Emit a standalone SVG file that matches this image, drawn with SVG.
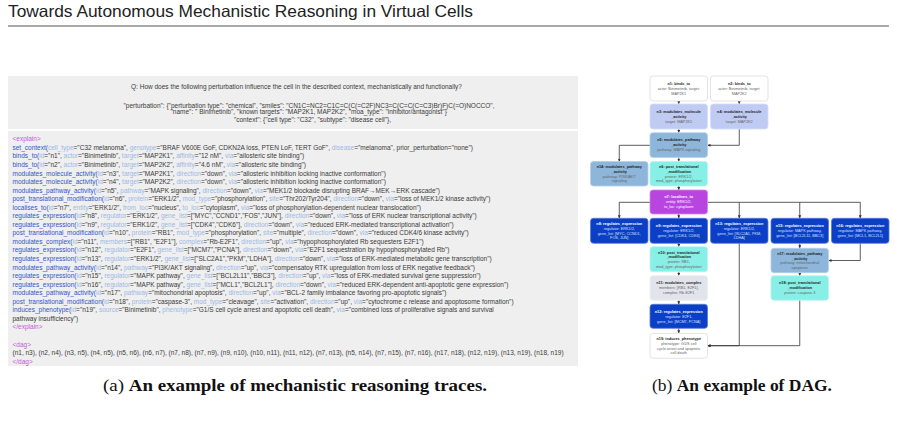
<svg xmlns="http://www.w3.org/2000/svg" width="897" height="426" viewBox="0 0 897 426">
<style>
.ttl{font-family:"Liberation Sans",Arial,sans-serif;font-size:16.5px;fill:#222}
.cap{font-family:"Liberation Serif","Times New Roman",serif;font-size:16px;fill:#111}
.b{font-weight:bold}
.q{font-family:"Liberation Sans",Arial,sans-serif;font-size:6.5px;fill:#3a3a3a;text-anchor:middle}
.e{font-family:"Liberation Sans",Arial,sans-serif;font-size:6.5px;fill:#3a3a3a}
.f{fill:#3355c8}
.k{fill:#9bb8e6}
.t{fill:#c45ad8}
.nt{font-family:"Liberation Sans",Arial,sans-serif;font-size:3.8px;text-anchor:middle}
.dk{fill:#222}
.lt{fill:#666}
.wh{fill:#fff}
.lb{fill:#d6e0ff}
.edge{fill:none;stroke:#333;stroke-width:0.8}
</style>
<defs>
<marker id="ah" viewBox="0 0 6 6" refX="6" refY="3" markerWidth="3" markerHeight="3" orient="auto" markerUnits="userSpaceOnUse"><path d="M0,0L6,3L0,6z" fill="#333"/></marker>
</defs>
<rect width="897" height="426" fill="#fff"/>
<text class="ttl" x="8" y="17" textLength="465" lengthAdjust="spacingAndGlyphs">Towards Autonomous Mechanistic Reasoning in Virtual Cells</text>
<line x1="8" y1="26" x2="889" y2="26" stroke="#555" stroke-width="1"/>

<g id="panel-a">
<rect x="8" y="76" width="570" height="53" fill="#efefef"/>
<rect x="8" y="131" width="570" height="235" fill="#efefef"/>
<text class="q" x="296.5" y="89.3">Q: How does the following perturbation influence the cell in the described context, mechanistically and functionally?</text>
<text class="q" x="309" y="107.5">"perturbation": {"perturbation type": "chemical", "smiles": "CN1C=NC2=C1C=C(C(=C2F)NC3=C(C=C(C=C3)Br)F)C(=O)NOCCO",</text>
<text class="q" x="308.7" y="114.3">"name": " Binimetinib", "known targets": "MAP2K1, MAP2K2", "moa_type": "inhibitor/antagonist"}</text>
<text class="q" x="312.5" y="122">"context": {"cell type": "C32", "subtype": "disease cell"},</text>

<text class="e t" x="12.5" y="141.3">&lt;explain&gt;</text>
<text class="e" x="12.5" y="149.85"><tspan class="f">set_context(</tspan><tspan class="k">cell_type</tspan>="C32 melanoma", <tspan class="k">genotype</tspan>="BRAF V600E GoF, CDKN2A loss, PTEN LoF, TERT GoF", <tspan class="k">disease</tspan>="melanoma", prior_perturbation="none")</text>
<text class="e" x="12.5" y="158.4"><tspan class="f">binds_to(</tspan><tspan class="k">id</tspan>="n1", <tspan class="k">actor</tspan>="Binimetinib", <tspan class="k">target</tspan>="MAP2K1", <tspan class="k">affinity</tspan>="12 nM", <tspan class="k">via</tspan>="allosteric site binding")</text>
<text class="e" x="12.5" y="166.95"><tspan class="f">binds_to(</tspan><tspan class="k">id</tspan>="n2", <tspan class="k">actor</tspan>="Binimetinib", <tspan class="k">target</tspan>="MAP2K2", <tspan class="k">affinity</tspan>="4.6 nM", <tspan class="k">via</tspan>="allosteric site binding")</text>
<text class="e" x="12.5" y="175.5"><tspan class="f">modulates_molecule_activity(</tspan><tspan class="k">id</tspan>="n3", <tspan class="k">target</tspan>="MAP2K1", <tspan class="k">direction</tspan>="down", <tspan class="k">via</tspan>="allosteric inhibition locking inactive conformation")</text>
<text class="e" x="12.5" y="184.05"><tspan class="f">modulates_molecule_activity(</tspan><tspan class="k">id</tspan>="n4", <tspan class="k">target</tspan>="MAP2K2", <tspan class="k">direction</tspan>="down", <tspan class="k">via</tspan>="allosteric inhibition locking inactive conformation")</text>
<text class="e" x="12.5" y="192.6"><tspan class="f">modulates_pathway_activity(</tspan><tspan class="k">id</tspan>="n5", <tspan class="k">pathway</tspan>="MAPK signaling", <tspan class="k">direction</tspan>="down", <tspan class="k">via</tspan>="MEK1/2 blockade disrupting BRAF→MEK→ERK cascade")</text>
<text class="e" x="12.5" y="201.15"><tspan class="f">post_translational_modification(</tspan><tspan class="k">id</tspan>="n6", <tspan class="k">protein</tspan>="ERK1/2", <tspan class="k">mod_type</tspan>="phosphorylation", <tspan class="k">site</tspan>="Thr202/Tyr204", <tspan class="k">direction</tspan>="down", <tspan class="k">via</tspan>="loss of MEK1/2 kinase activity")</text>
<text class="e" x="12.5" y="209.7"><tspan class="f">localises_to(</tspan><tspan class="k">id</tspan>="n7", <tspan class="k">entity</tspan>="ERK1/2", <tspan class="k">from_loc</tspan>="nucleus", <tspan class="k">to_loc</tspan>="cytoplasm", <tspan class="k">via</tspan>="loss of phosphorylation-dependent nuclear translocation")</text>
<text class="e" x="12.5" y="218.25"><tspan class="f">regulates_expression(</tspan><tspan class="k">id</tspan>="n8", <tspan class="k">regulator</tspan>="ERK1/2", <tspan class="k">gene_list</tspan>=["MYC","CCND1","FOS","JUN"], <tspan class="k">direction</tspan>="down", <tspan class="k">via</tspan>="loss of ERK nuclear transcriptional activity")</text>
<text class="e" x="12.5" y="226.8"><tspan class="f">regulates_expression(</tspan><tspan class="k">id</tspan>="n9", <tspan class="k">regulator</tspan>="ERK1/2", <tspan class="k">gene_list</tspan>=["CDK4","CDK6"], <tspan class="k">direction</tspan>="down", <tspan class="k">via</tspan>="reduced ERK-mediated transcriptional activation")</text>
<text class="e" x="12.5" y="235.35"><tspan class="f">post_translational_modification(</tspan><tspan class="k">id</tspan>="n10", <tspan class="k">protein</tspan>="RB1", <tspan class="k">mod_type</tspan>="phosphorylation", <tspan class="k">site</tspan>="multiple", <tspan class="k">direction</tspan>="down", <tspan class="k">via</tspan>="reduced CDK4/6 kinase activity")</text>
<text class="e" x="12.5" y="243.9"><tspan class="f">modulates_complex(</tspan><tspan class="k">id</tspan>="n11", <tspan class="k">members</tspan>=["RB1", "E2F1"], <tspan class="k">complex</tspan>="Rb-E2F1", <tspan class="k">direction</tspan>="up", <tspan class="k">via</tspan>="hypophosphorylated Rb sequesters E2F1")</text>
<text class="e" x="12.5" y="252.45"><tspan class="f">regulates_expression(</tspan><tspan class="k">id</tspan>="n12", <tspan class="k">regulator</tspan>="E2F1", <tspan class="k">gene_list</tspan>=["MCM7","PCNA"], <tspan class="k">direction</tspan>="down", <tspan class="k">via</tspan>="E2F1 sequestration by hypophosphorylated Rb")</text>
<text class="e" x="12.5" y="261"><tspan class="f">regulates_expression(</tspan><tspan class="k">id</tspan>="n13", <tspan class="k">regulator</tspan>="ERK1/2", <tspan class="k">gene_list</tspan>=["SLC2A1","PKM","LDHA"], <tspan class="k">direction</tspan>="down", <tspan class="k">via</tspan>="loss of ERK-mediated metabolic gene transcription")</text>
<text class="e" x="12.5" y="269.55"><tspan class="f">modulates_pathway_activity(</tspan><tspan class="k">id</tspan>="n14", <tspan class="k">pathway</tspan>="PI3K/AKT signaling", <tspan class="k">direction</tspan>="up", <tspan class="k">via</tspan>="compensatoy RTK upregulation from loss of ERK negative feedback")</text>
<text class="e" x="12.5" y="278.1"><tspan class="f">regulates_expression(</tspan><tspan class="k">id</tspan>="n15", <tspan class="k">regulator</tspan>="MAPK pathway", <tspan class="k">gene_list</tspan>=["BCL2L11","BBC3"], <tspan class="k">direction</tspan>="up", <tspan class="k">via</tspan>="loss of ERK-mediated survival gene suppression")</text>
<text class="e" x="12.5" y="286.65"><tspan class="f">regulates_expression(</tspan><tspan class="k">id</tspan>="n16", <tspan class="k">regulator</tspan>="MAPK pathway", <tspan class="k">gene_list</tspan>=["MCL1","BCL2L1"], <tspan class="k">direction</tspan>="down", <tspan class="k">via</tspan>="reduced ERK-dependent anti-apoptotic gene expression")</text>
<text class="e" x="12.5" y="295.2"><tspan class="f">modulates_pathway_activity(</tspan><tspan class="k">id</tspan>="n17", <tspan class="k">pathway</tspan>="mitochondrial apoptosis", <tspan class="k">direction</tspan>="up", <tspan class="k">via</tspan>="BCL-2 family imbalance favoring pro-apoptotic signals")</text>
<text class="e" x="12.5" y="303.75"><tspan class="f">post_translational_modification(</tspan><tspan class="k">id</tspan>="n18", <tspan class="k">protein</tspan>="caspase-3", <tspan class="k">mod_type</tspan>="cleavage", <tspan class="k">site</tspan>="activation", <tspan class="k">direction</tspan>="up", <tspan class="k">via</tspan>="cytochrome c release and apoptosome formation")</text>
<text class="e" x="12.5" y="312.3"><tspan class="f">induces_phenotype(</tspan><tspan class="k">id</tspan>="n19", <tspan class="k">source</tspan>="Binimetinib", <tspan class="k">phenotype</tspan>="G1/S cell cycle arrest and apoptotic cell death", <tspan class="k">via</tspan>="combined loss of proliferative signals and survival</text>
<text class="e" x="12.5" y="320.85">pathway insufficiency")</text>
<text class="e t" x="12.5" y="329.4">&lt;/explain&gt;</text>
<text class="e t" x="12.5" y="346.5">&lt;dag&gt;</text>
<text class="e" x="12.5" y="355.05">(n1, n3), (n2, n4), (n3, n5), (n4, n5), (n5, n6), (n6, n7), (n7, n8), (n7, n9), (n9, n10), (n10, n11), (n11, n12), (n7, n13), (n5, n14), (n7, n15), (n7, n16), (n17, n18), (n12, n19), (n13, n19), (n18, n19)</text>
<text class="e t" x="12.5" y="363.6">&lt;/dag&gt;</text>
</g>

<g id="connectors">
<path class="edge" d="M678.75,101V104" marker-end="url(#ah)"/>
<path class="edge" d="M739.25,101V104" marker-end="url(#ah)"/>
<path class="edge" d="M678.75,129V132.7" marker-end="url(#ah)"/>
<path class="edge" d="M739.25,129V145.3H707.5" marker-end="url(#ah)"/>
<path class="edge" d="M650,145.3H619.25V161.5" marker-end="url(#ah)"/>
<path class="edge" d="M678.75,157.4V161.5" marker-end="url(#ah)"/>
<path class="edge" d="M678.75,186V190" marker-end="url(#ah)"/>
<path class="edge" d="M650,202.3H619.25V218.3" marker-end="url(#ah)"/>
<path class="edge" d="M678.75,214V218.3" marker-end="url(#ah)"/>
<path class="edge" d="M707.5,202.3H739.25V218.3" marker-end="url(#ah)"/>
<path class="edge" d="M739.25,202.3H799.75V218.3" marker-end="url(#ah)"/>
<path class="edge" d="M799.75,202.3H860.25V218.3" marker-end="url(#ah)"/>
<path class="edge" d="M678.75,243.3V246.7" marker-end="url(#ah)"/>
<path class="edge" d="M678.75,271.7V275.7" marker-end="url(#ah)"/>
<path class="edge" d="M678.75,300.2V304.3" marker-end="url(#ah)"/>
<path class="edge" d="M678.75,328.3V333.3" marker-end="url(#ah)"/>
<path class="edge" d="M799.75,243.3V248.3" marker-end="url(#ah)"/>
<path class="edge" d="M860.25,243.3V260.5H828.5" marker-end="url(#ah)"/>
<path class="edge" d="M799.75,272.7V275.7" marker-end="url(#ah)"/>
<path class="edge" d="M739.25,243.3V345.7H707.5" marker-end="url(#ah)"/>
<path class="edge" d="M799.75,300.2V345.7H707.5" marker-end="url(#ah)"/>
</g>

<g id="n1"><rect x="650" y="76" width="57.5" height="25" rx="3" fill="#fff" stroke="#dcdcdc" stroke-width="0.8"/>
<text class="nt"><tspan class="b dk" x="678.75" y="84.9">n1: binds_to</tspan><tspan class="lt" x="678.75" y="89.9">actor: Binimetinib, target:</tspan><tspan class="lt" x="678.75" y="94.9">MAP2K1</tspan></text></g>
<g id="n2"><rect x="710.5" y="76" width="57.5" height="25" rx="3" fill="#fff" stroke="#dcdcdc" stroke-width="0.8"/>
<text class="nt"><tspan class="b dk" x="739.25" y="84.9">n2: binds_to</tspan><tspan class="lt" x="739.25" y="89.9">actor: Binimetinib, target:</tspan><tspan class="lt" x="739.25" y="94.9">MAP2K2</tspan></text></g>
<g id="n3"><rect x="650" y="104" width="57.5" height="25" rx="3" fill="#bfcbf2" stroke="#d6def8" stroke-width="0.8"/>
<text class="nt"><tspan class="b dk" x="678.75" y="112.9">n3: modulates_molecule</tspan><tspan class="b dk" x="678.75" y="117.9">_activity</tspan><tspan class="lt" x="678.75" y="122.9">target: MAP2K1</tspan></text></g>
<g id="n4"><rect x="710.5" y="104" width="57.5" height="25" rx="3" fill="#bfcbf2" stroke="#d6def8" stroke-width="0.8"/>
<text class="nt"><tspan class="b dk" x="739.25" y="112.9">n4: modulates_molecule</tspan><tspan class="b dk" x="739.25" y="117.9">_activity</tspan><tspan class="lt" x="739.25" y="122.9">target: MAP2K2</tspan></text></g>
<g id="n5"><rect x="650" y="132.7" width="57.5" height="24.7" rx="3" fill="#8db6da" stroke="#b4cfe8" stroke-width="0.8"/>
<text class="nt"><tspan class="b dk" x="678.75" y="141.45">n5: modulates_pathway</tspan><tspan class="b dk" x="678.75" y="146.45">_activity</tspan><tspan class="lt" x="678.75" y="151.45">pathway: MAPK signaling</tspan></text></g>
<g id="n14"><rect x="590.5" y="161.5" width="57.5" height="24.5" rx="3" fill="#8db6da" stroke="#b4cfe8" stroke-width="0.8"/>
<text class="nt"><tspan class="b dk" x="619.25" y="168.1">n14: modulates_pathway</tspan><tspan class="b dk" x="619.25" y="172.8">_activity</tspan><tspan class="lt" x="619.25" y="177.5">pathway: PI3K/AKT</tspan><tspan class="lt" x="619.25" y="182.2">signaling</tspan></text></g>
<g id="n6"><rect x="650" y="161.5" width="57.5" height="24.5" rx="3" fill="#88efe6" stroke="#b6f5ef" stroke-width="0.8"/>
<text class="nt"><tspan class="b dk" x="678.75" y="168.1">n6: post_translational</tspan><tspan class="b dk" x="678.75" y="172.8">_modification</tspan><tspan class="lt" x="678.75" y="177.5">protein: ERK1/2,</tspan><tspan class="lt" x="678.75" y="182.2">mod_type: phosphorylation</tspan></text></g>
<g id="n7"><rect x="650" y="190" width="57.5" height="24" rx="3" fill="#b845e0" stroke="#cf85ec" stroke-width="0.8"/>
<text class="nt"><tspan class="b wh" x="678.75" y="198.4">n7: localises_to</tspan><tspan class="wh" x="678.75" y="203.4">entity: ERK1/2,</tspan><tspan class="wh" x="678.75" y="208.4">to_loc: cytoplasm</tspan></text></g>
<g id="n8"><rect x="590.5" y="218.3" width="57.5" height="25" rx="3" fill="#0b3fc6" stroke="#5a7ad8" stroke-width="0.8"/>
<text class="nt"><tspan class="b wh" x="619.25" y="225.15">n8: regulates_expression</tspan><tspan class="lb" x="619.25" y="229.85">regulator: ERK1/2,</tspan><tspan class="lb" x="619.25" y="234.55">gene_list: [MYC, CCND1,</tspan><tspan class="lb" x="619.25" y="239.25">FOS, JUN]</tspan></text></g>
<g id="n9"><rect x="650" y="218.3" width="57.5" height="25" rx="3" fill="#0b3fc6" stroke="#5a7ad8" stroke-width="0.8"/>
<text class="nt"><tspan class="b wh" x="678.75" y="227.2">n9: regulates_expression</tspan><tspan class="lb" x="678.75" y="232.2">regulator: ERK1/2,</tspan><tspan class="lb" x="678.75" y="237.2">gene_list: [CDK4, CDK6]</tspan></text></g>
<g id="n13"><rect x="710.5" y="218.3" width="57.5" height="25" rx="3" fill="#0b3fc6" stroke="#5a7ad8" stroke-width="0.8"/>
<text class="nt"><tspan class="b wh" x="739.25" y="225.15">n13: regulates_expression</tspan><tspan class="lb" x="739.25" y="229.85">regulator: ERK1/2,</tspan><tspan class="lb" x="739.25" y="234.55">gene_list: [SLC2A1, PKM,</tspan><tspan class="lb" x="739.25" y="239.25">LDHA]</tspan></text></g>
<g id="n15"><rect x="771" y="218.3" width="57.5" height="25" rx="3" fill="#0b3fc6" stroke="#5a7ad8" stroke-width="0.8"/>
<text class="nt"><tspan class="b wh" x="799.75" y="227.2">n15: regulates_expression</tspan><tspan class="lb" x="799.75" y="232.2">regulator: MAPK pathway,</tspan><tspan class="lb" x="799.75" y="237.2">gene_list: [BCL2L11, BBC3]</tspan></text></g>
<g id="n16"><rect x="831.5" y="218.3" width="57.5" height="25" rx="3" fill="#0b3fc6" stroke="#5a7ad8" stroke-width="0.8"/>
<text class="nt"><tspan class="b wh" x="860.25" y="227.2">n16: regulates_expression</tspan><tspan class="lb" x="860.25" y="232.2">regulator: MAPK pathway,</tspan><tspan class="lb" x="860.25" y="237.2">gene_list: [MCL1, BCL2L1]</tspan></text></g>
<g id="n10"><rect x="650" y="246.7" width="57.5" height="25" rx="3" fill="#88efe6" stroke="#b6f5ef" stroke-width="0.8"/>
<text class="nt"><tspan class="b dk" x="678.75" y="253.55">n10: post_translational</tspan><tspan class="b dk" x="678.75" y="258.25">_modification</tspan><tspan class="lt" x="678.75" y="262.95">protein: RB1,</tspan><tspan class="lt" x="678.75" y="267.65">mod_type: phosphorylation</tspan></text></g>
<g id="n17"><rect x="771" y="248.3" width="57.5" height="24.4" rx="3" fill="#8db6da" stroke="#b4cfe8" stroke-width="0.8"/>
<text class="nt"><tspan class="b dk" x="799.75" y="254.85">n17: modulates_pathway</tspan><tspan class="b dk" x="799.75" y="259.55">_activity</tspan><tspan class="lt" x="799.75" y="264.25">pathway: mitochondrial</tspan><tspan class="lt" x="799.75" y="268.95">apoptosis</tspan></text></g>
<g id="n11"><rect x="650" y="275.7" width="57.5" height="24.5" rx="3" fill="#e1e4eb" stroke="#eceef3" stroke-width="0.8"/>
<text class="nt"><tspan class="b dk" x="678.75" y="284.35">n11: modulates_complex</tspan><tspan class="lt" x="678.75" y="289.35">members: [RB1, E2F1],</tspan><tspan class="lt" x="678.75" y="294.35">complex: Rb-E2F1</tspan></text></g>
<g id="n18"><rect x="771" y="275.7" width="57.5" height="24.5" rx="3" fill="#88efe6" stroke="#b6f5ef" stroke-width="0.8"/>
<text class="nt"><tspan class="b dk" x="799.75" y="284.35">n18: post_translational</tspan><tspan class="b dk" x="799.75" y="289.35">_modification</tspan><tspan class="lt" x="799.75" y="294.35">protein: caspase-3</tspan></text></g>
<g id="n12"><rect x="650" y="304.3" width="57.5" height="24" rx="3" fill="#0b3fc6" stroke="#5a7ad8" stroke-width="0.8"/>
<text class="nt"><tspan class="b wh" x="678.75" y="312.7">n12: regulates_expression</tspan><tspan class="lb" x="678.75" y="317.7">regulator: E2F1,</tspan><tspan class="lb" x="678.75" y="322.7">gene_list: [MCM7, PCNA]</tspan></text></g>
<g id="n19"><rect x="650" y="333.3" width="57.5" height="25" rx="3" fill="#fff" stroke="#dcdcdc" stroke-width="0.8"/>
<text class="nt"><tspan class="b dk" x="678.75" y="340.15">n19: induces_phenotype</tspan><tspan class="lt" x="678.75" y="344.85">phenotype: G1/S cell</tspan><tspan class="lt" x="678.75" y="349.55">cycle arrest and apoptotic</tspan><tspan class="lt" x="678.75" y="354.25">cell death</tspan></text></g>

<text class="cap" x="103" y="391" textLength="384" lengthAdjust="spacingAndGlyphs">(a) <tspan class="b">An example of mechanistic reasoning traces.</tspan></text>
<text class="cap" x="652" y="391" textLength="180" lengthAdjust="spacingAndGlyphs">(b) <tspan class="b">An example of DAG.</tspan></text>
</svg>
